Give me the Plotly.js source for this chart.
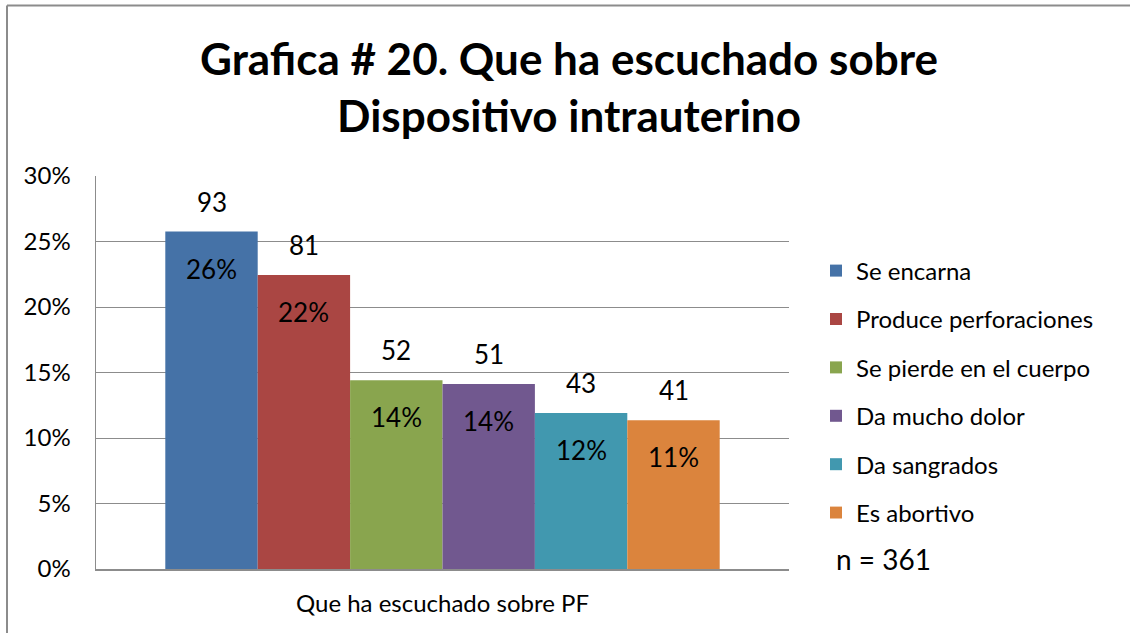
<!DOCTYPE html>
<html>
<head>
<meta charset="utf-8">
<script src="https://cdn.plot.ly/plotly-3.0.1.min.js"></script>
<style>
  html, body { margin: 0; padding: 0; background: #ffffff; }
  #chart { width: 1130px; height: 633px; }
</style>
</head>
<body>
<div id="chart"></div>
<script>
// ---- data ----
const category = "Que ha escuchado sobre PF";
const seriesNames = ["Se encarna", "Produce perforaciones", "Se pierde en el cuerpo", "Da mucho dolor", "Da sangrados", "Es abortivo"];
const counts = [93, 81, 52, 51, 43, 41];
const total = 361;
const colors = ["#4572A7", "#AA4643", "#89A54E", "#71588F", "#4198AF", "#DB843D"];
const yTickVals = [0, 0.05, 0.10, 0.15, 0.20, 0.25, 0.30];
const titleText = "Grafica # 20. Que ha escuchado sobre<br>Dispositivo intrauterino";
const noteText = "n = " + total;

// ---- layout geometry ----
const W = 1130, H = 633;
const M = { l: 96, r: W - 789, t: 176, b: H - 569 };
const PW = W - M.l - M.r, PH = H - M.t - M.b;
const pxToPaperX = px => (px - M.l) / PW;
const pxToPaperY = py => (H - M.b - py) / PH;
const BARGAP = 0.2;
const FONT = "Lato, 'Open Sans', sans-serif";

const shares = counts.map(c => c / total);

const traces = seriesNames.map((name, i) => ({
  type: "bar",
  name: name,
  x: [category],
  y: [shares[i]],
  marker: { color: colors[i], line: { width: 0 } },
  legendgroup: "g" + i,
  hoverinfo: "name+y"
}));

// positions of grouped bars within the single category (category units)
const n = seriesNames.length;
const slot = (1 - BARGAP) / n;
const barCenter = i => -(1 - BARGAP) / 2 + (i + 0.5) * slot;

const annotations = [];
seriesNames.forEach((name, i) => {
  annotations.push({
    x: barCenter(i), y: shares[i], xref: "x", yref: "y",
    text: String(counts[i]), showarrow: false,
    xanchor: "center", yanchor: "middle", yshift: 30,
    font: { family: FONT, size: 26, color: "#000000" }
  });
  annotations.push({
    x: barCenter(i), y: shares[i], xref: "x", yref: "y",
    text: Math.round(shares[i] * 100) + "%", showarrow: false,
    xanchor: "center", yanchor: "middle", yshift: -37,
    font: { family: FONT, size: 26, color: "#000000" }
  });
});
annotations.push({
  x: pxToPaperX(834), y: pxToPaperY(559), xref: "paper", yref: "paper",
  text: noteText, showarrow: false, xanchor: "left", yanchor: "middle",
  font: { family: FONT, size: 28, color: "#000000" }
});

const borderColor = "#8c8c8c";
const shapes = [
  { type: "line", xref: "paper", yref: "paper",
    x0: pxToPaperX(7), x1: pxToPaperX(W), y0: pxToPaperY(5.5), y1: pxToPaperY(5.5),
    line: { color: borderColor, width: 2 } },
  { type: "line", xref: "paper", yref: "paper",
    x0: pxToPaperX(7), x1: pxToPaperX(7), y0: pxToPaperY(5.5), y1: pxToPaperY(H),
    line: { color: borderColor, width: 2 } }
];

const layout = {
  width: W, height: H,
  margin: M,
  paper_bgcolor: "#ffffff",
  plot_bgcolor: "#ffffff",
  font: { family: FONT, size: 24, color: "#000000" },
  title: {
    text: titleText,
    font: { family: FONT, size: 44, color: "#000000", weight: "bold" },
    xref: "container", yref: "container",
    x: 569 / W, xanchor: "center",
    y: 1 - 75 / H, yanchor: "middle"
  },
  barmode: "group",
  bargap: BARGAP,
  bargroupgap: 0,
  showlegend: true,
  legend: {
    x: pxToPaperX(816), y: pxToPaperY(248.5), xanchor: "left", yanchor: "top",
    font: { family: FONT, size: 24, color: "#000000" },
    tracegroupgap: 14.2,
    traceorder: "grouped",
    bgcolor: "rgba(0,0,0,0)"
  },
  xaxis: {
    type: "category",
    showgrid: false,
    showline: true, linecolor: "#8c8c8c", linewidth: 1.5,
    ticks: "", ticklabelstandoff: 13,
    tickfont: { family: FONT, size: 24, color: "#000000" },
    fixedrange: true
  },
  yaxis: {
    range: [0, 0.30],
    tickvals: yTickVals,
    tickformat: ".0%",
    showgrid: true, gridcolor: "#8c8c8c", gridwidth: 1,
    zeroline: false,
    showline: true, linecolor: "#8c8c8c", linewidth: 1.5,
    ticks: "", ticklabelstandoff: 19,
    tickfont: { family: FONT, size: 24, color: "#000000" },
    fixedrange: true
  },
  annotations: annotations,
  shapes: shapes
};

Plotly.newPlot("chart", traces, layout, { displayModeBar: false, staticPlot: true });
</script>
</body>
</html>
